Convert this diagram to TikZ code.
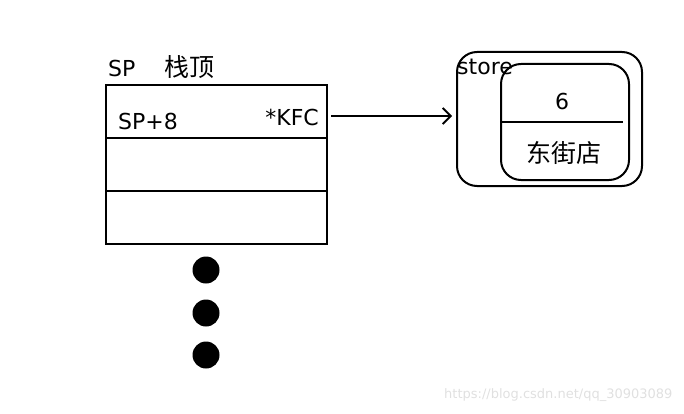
\documentclass[tikz,border=0pt]{standalone}
\usepackage{fontspec}
\setmainfont{DejaVu Sans}
\newfontfamily\cjk{Noto Sans CJK SC}
\usetikzlibrary{positioning, arrows.meta}

\tikzset{
  cell/.style={draw, line width=2.6pt, minimum width=221pt, minimum height=53pt,
    inner sep=0pt, outer sep=0pt},
  box/.style={draw, line width=2pt, rounded corners=20pt, inner sep=0pt},
  ptr/.style={line width=1.8pt, -{Straight Barb[length=8pt,width=16pt]}},
  zh/.style={font=\cjk\fontsize{25}{28}\selectfont}
}

\begin{document}
\begin{tikzpicture}[x=1pt,y=-1pt, font=\fontsize{22}{26}\selectfont]
\useasboundingbox (0,0) rectangle (684,414);
% Stack cells
\node[cell, anchor=north west] (cell1) at (106,85) {};
\node[cell, below=0pt of cell1] (cell2) {};
\node[cell, below=0pt of cell2] (cell3) {};
% Labels of the stack
\node[anchor=south west, inner sep=0pt] (sp) at (108,77) {SP};
\node[zh, anchor=south west, inner sep=0pt] (top) at (164,79) {栈顶};
\node[anchor=west, inner sep=0pt] (spoff) at (118,121) {SP+8};
\node[anchor=east, inner sep=0pt] (kfc) at (319,117) {*KFC};
% The store object
\node[box, minimum width=185pt, minimum height=134pt] (store) at (549.5,119) {};
\node[box, minimum width=128pt, minimum height=116pt] (inner) at (565,122) {};
\node[anchor=base west, inner sep=0pt] (name) at (457,75) {store};
\node (val) at (562,101) {6};
\node[zh] (city) at (564,153) {东街店};
\draw[line width=2.4pt] (inner.west) -- ++(123,0);
% Pointer
\draw[ptr] ([xshift=4pt,yshift=-4.5pt]cell1.east) -- ([xshift=-4pt,yshift=3pt]store.west);
% More cells below
\foreach \y in {270,313,355}
  \fill (206,\y) circle (13.5);
\node[text=black!12, font=\fontsize{13}{15}\selectfont, anchor=east] (mark) at (676,395)
  {https://blog.csdn.net/qq\_30903089};
\end{tikzpicture}
\end{document}
